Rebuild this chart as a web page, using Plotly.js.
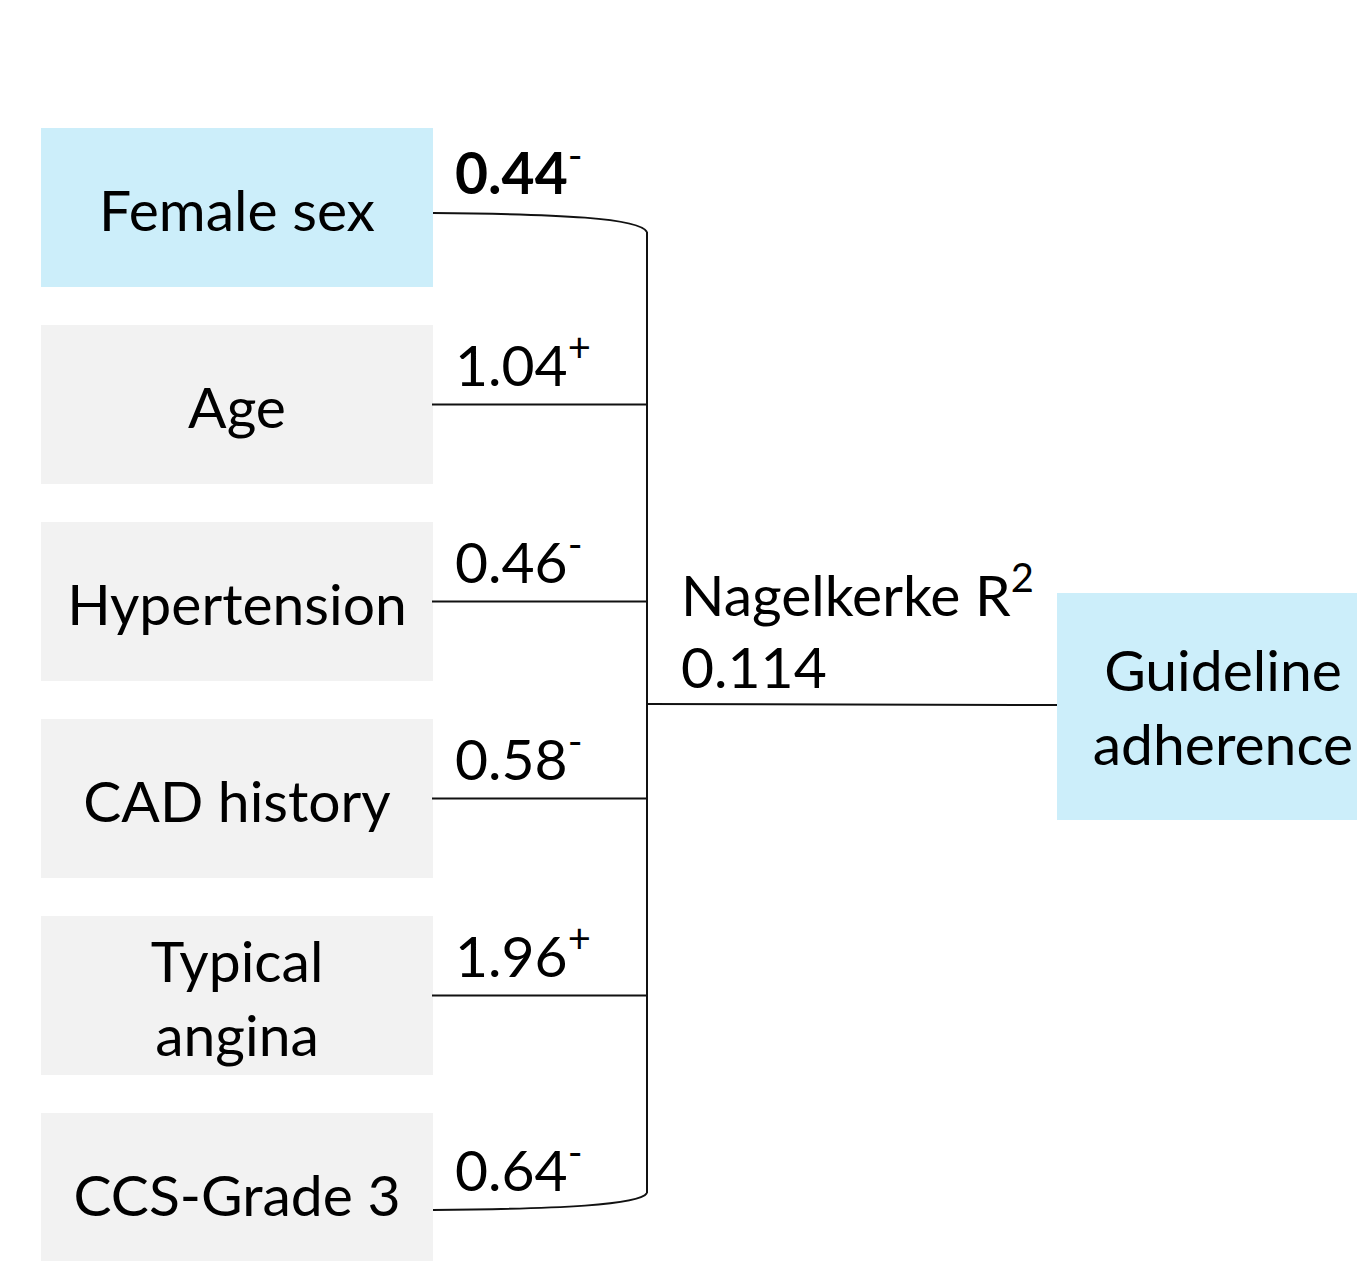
<!DOCTYPE html>
<html>
<head>
<meta charset="utf-8">
<script src="https://cdn.plot.ly/plotly-3.0.1.min.js"></script>
<style>html,body{margin:0;padding:0;background:#fff;}#chart{width:1357px;height:1261px;}</style>
</head>
<body>
<div id="chart"></div>
<script>
// ---- data ----
const factors = ["Female sex", "Age", "Hypertension", "CAD history", "Typical<br>angina", "CCS-Grade 3"];
const oddsRatios = [0.44, 1.04, 0.46, 0.58, 1.96, 0.64];
const effectSign = ["-", "+", "-", "-", "+", "-"];
const significant = [true, false, false, false, false, false];
const modelLabel = "Nagelkerke R<sup>2</sup>";
const nagelkerkeR2 = 0.114;
const outcome = "Guideline<br>adherence";

// ---- geometry (pixel space) ----
const W = 1357, H = 1261;
const boxLeft = 41, boxRight = 433, boxTop0 = 128, boxStep = 197, boxH = 159;
const trunkX = 647;
const outBox = {x0: 1057, x1: 1380, y0: 593, y1: 820};
const blue = "#CCEEFA", grey = "#F2F2F2";
const font = "Lato, 'Open Sans', sans-serif";
const fs = 57;

const shapes = [];
const n = factors.length;
const connY = [], labX = [], labY = [], numX = [], numY = [], numText = [];
for (let i = 0; i < n; i++) {
  const top = boxTop0 + i * boxStep;
  const cy = top + boxH / 2;
  let ly = cy;
  if (i === 0) ly = cy + 5.5;
  if (i === n - 1) ly = cy + 17.5;
  connY.push(ly);
  shapes.push({type: "rect", xref: "x", yref: "y", x0: boxLeft, x1: boxRight, y0: top, y1: top + boxH,
    fillcolor: significant[i] ? blue : grey, line: {width: 0}, layer: "below"});
  labX.push((boxLeft + boxRight) / 2); labY.push(cy + 9);
  const val = oddsRatios[i].toFixed(2);
  numText.push((significant[i] ? "<b>" + val + "</b>" : val) + "<sup>" + effectSign[i] + "</sup>");
  numX.push(455); numY.push(ly - 33);
}
// connectors
const lineStyle = {color: "#111", width: 2};
for (let i = 0; i < n; i++) {
  if (i === 0) {
    shapes.push({type: "path", xref: "x", yref: "y",
      path: `M ${boxRight} ${connY[i]} C 560 ${connY[i] + 1} 640 ${connY[i] + 5} ${trunkX} ${connY[i] + 19}`, line: lineStyle});
  } else if (i === n - 1) {
    shapes.push({type: "path", xref: "x", yref: "y",
      path: `M ${boxRight} ${connY[i]} C 560 ${connY[i] - 1} 640 ${connY[i] - 5} ${trunkX} ${connY[i] - 17}`, line: lineStyle});
  } else {
    shapes.push({type: "line", xref: "x", yref: "y", x0: boxRight - 1, x1: trunkX, y0: connY[i], y1: connY[i], line: lineStyle});
  }
}
shapes.push({type: "line", xref: "x", yref: "y", x0: trunkX, x1: trunkX, y0: connY[0] + 19, y1: connY[n - 1] - 17, line: lineStyle});
shapes.push({type: "line", xref: "x", yref: "y", x0: trunkX, x1: outBox.x0, y0: 704, y1: 705, line: lineStyle});
shapes.push({type: "rect", xref: "x", yref: "y", x0: outBox.x0, x1: outBox.x1, y0: outBox.y0, y1: outBox.y1,
  fillcolor: blue, line: {width: 0}, layer: "below"});

const tf = {family: font, size: fs, color: "#000"};
const traces = [
  {type: "scatter", mode: "text", x: labX, y: labY, text: factors, textposition: "middle center", textfont: tf, hoverinfo: "skip", cliponaxis: false},
  {type: "scatter", mode: "text", x: numX, y: numY, text: numText, textposition: "middle right", textfont: tf, hoverinfo: "skip", cliponaxis: false},
  {type: "scatter", mode: "text", x: [681], y: [602], text: [modelLabel], textposition: "middle right", textfont: tf, hoverinfo: "skip", cliponaxis: false},
  {type: "scatter", mode: "text", x: [681], y: [674], text: [nagelkerkeR2.toFixed(3)], textposition: "middle right", textfont: tf, hoverinfo: "skip", cliponaxis: false},
  {type: "scatter", mode: "text", x: [1223], y: [714], text: [outcome], textposition: "middle center", textfont: tf, hoverinfo: "skip", cliponaxis: false}
];

const layout = {
  width: W, height: H, margin: {l: 0, r: 0, t: 0, b: 0},
  paper_bgcolor: "#fff", plot_bgcolor: "#fff",
  xaxis: {range: [0, W], visible: false, fixedrange: true},
  yaxis: {range: [H, 0], visible: false, fixedrange: true},
  showlegend: false, shapes: shapes
};
Plotly.newPlot("chart", traces, layout, {staticPlot: true, displayModeBar: false});
</script>
</body>
</html>
